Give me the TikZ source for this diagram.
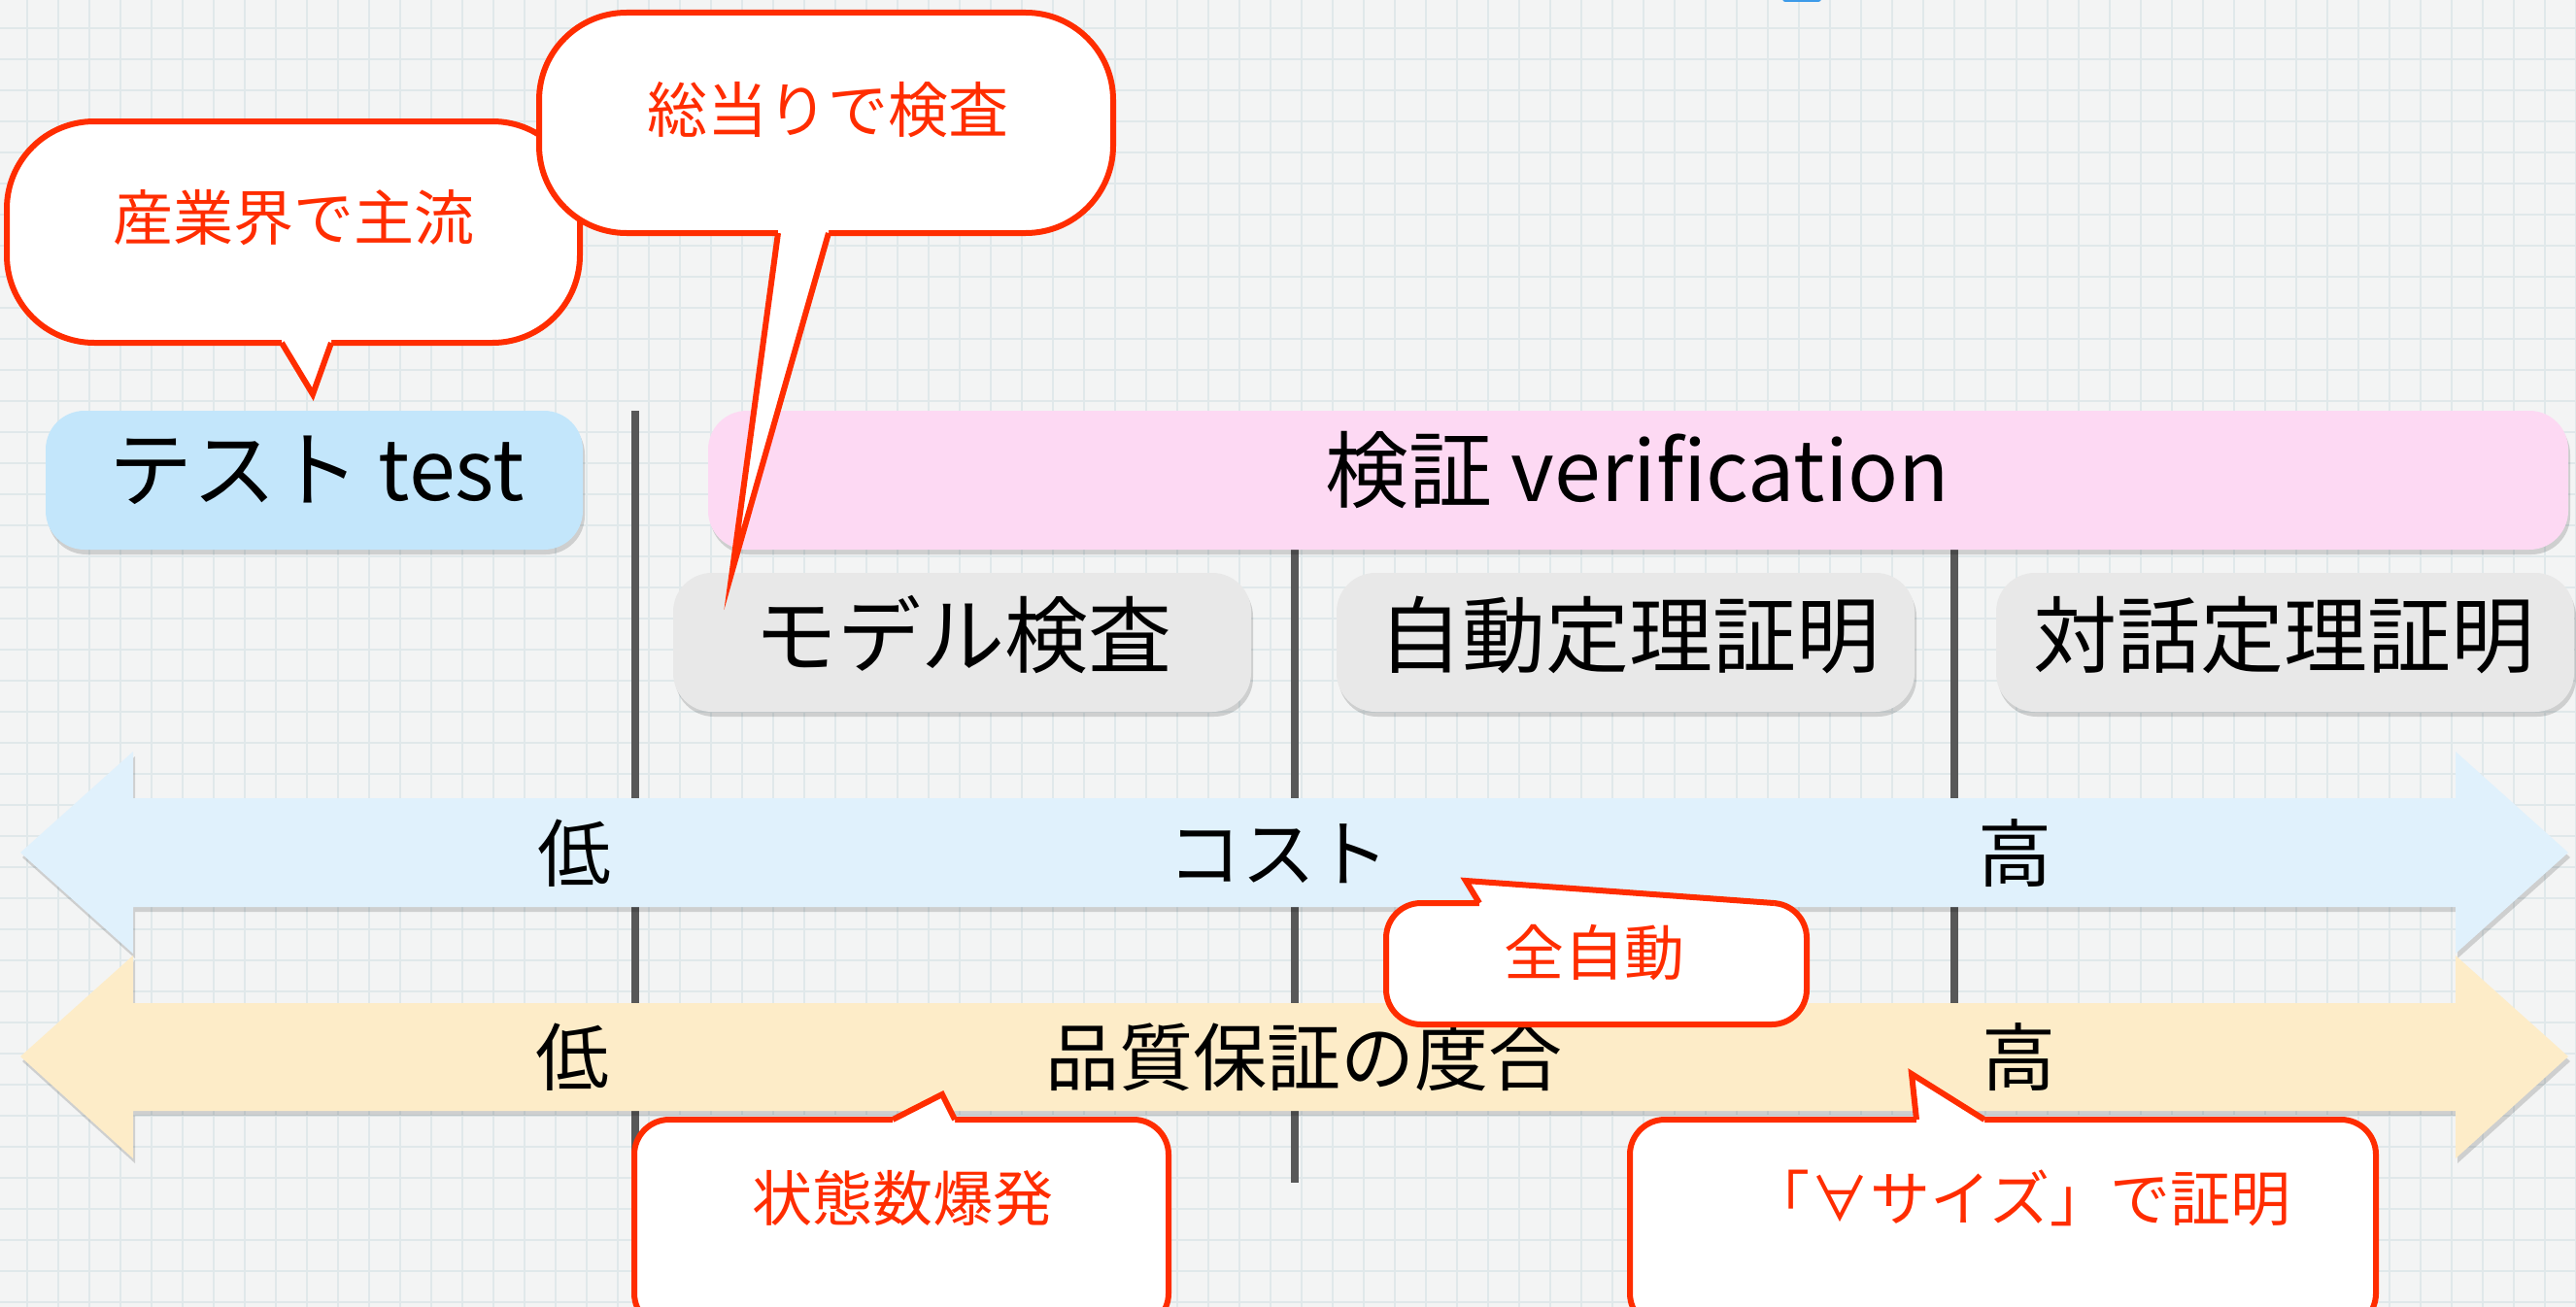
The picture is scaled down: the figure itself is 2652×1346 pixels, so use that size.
\documentclass[tikz,border=0pt]{standalone}
\usepackage{fontspec}
\setmainfont{Noto Sans CJK JP}
\usetikzlibrary{shadows}
\definecolor{bg}{HTML}{F3F4F4}
\definecolor{gridc}{HTML}{E0E8EA}
\definecolor{testc}{HTML}{C3E6FB}
\definecolor{verc}{HTML}{FDD9F3}
\definecolor{boxg}{HTML}{E8E8E8}
\definecolor{costc}{HTML}{E0F1FC}
\definecolor{qualc}{HTML}{FDECC8}
\definecolor{calred}{HTML}{FF2D00}
\definecolor{divc}{HTML}{585858}
\definecolor{topblue}{HTML}{3D9BE9}
\tikzset{
  softshadow/.style={drop shadow={opacity=0.15, shadow xshift=2pt, shadow yshift=-5pt, fill=black}},
  catbox/.style={rounded corners=40pt, softshadow},
  big/.style={font=\fontsize{86}{90}\selectfont, text=black, inner sep=0pt},
  mid/.style={font=\fontsize{76}{80}\selectfont, text=black, inner sep=0pt},
  ctext/.style={font=\fontsize{62}{66}\selectfont, text=calred, inner sep=0pt},
  cbox/.style={draw=calred, line width=6pt, fill=white},
  cptrfill/.style={fill=white},
  cptr/.style={draw=calred, line width=6pt, line join=miter, miter limit=20},
  divider/.style={draw=divc, line width=8pt},
  gridline/.style={draw=gridc, line width=1.5pt},
  bigarrow/.style={softshadow},
}
\begin{document}
\begin{tikzpicture}[x=1pt,y=-1pt]
\useasboundingbox (0,0) rectangle (2652,1346);
% background and grid
\fill[bg] (0,0) rectangle (2652,1346);
\foreach \gx in {28,60,...,2652} {\draw[gridline] (\gx,0) -- (\gx,1346);}
\foreach \gy in {29,61,...,1346} {\draw[gridline] (0,\gy) -- (2652,\gy);}
\fill[topblue, rounded corners=3pt] (1835,-10) rectangle (1875,2);
% dividers
\coordinate (d1t) at (654,423); \coordinate (d1b) at (654,1218);
\coordinate (d2t) at (1333,423); \coordinate (d2b) at (1333,1218);
\coordinate (d3t) at (2012,423); \coordinate (d3b) at (2012,1218);
\draw[divider] (d1t) -- (d1b);
\draw[divider] (d2t) -- (d2b);
\draw[divider] (d3t) -- (d3b);
% category boxes
\path[catbox, fill=testc] (47,423) rectangle (600,566);
\path[catbox, fill=verc] (729,423) rectangle (2644,566);
\path[catbox, fill=boxg] (693,590) rectangle (1288,733);
\path[catbox, fill=boxg] (1376,590) rectangle (1971,733);
\path[catbox, fill=boxg] (2055,590) rectangle (2650,733);
\node[big] (test) at (326,484) {テスト test};
\node[big] (verif) at (1686,484) {検証 verification};
\node[big] (mc) at (991,654) {モデル検査};
\node[big] (atp) at (1677,654) {自動定理証明};
\node[big] (itp) at (2351,654) {対話定理証明};
% cost arrow
\path[bigarrow, fill=costc] (21,878) -- (137,774) -- (137,822) -- (2528,822) -- (2528,774)
  -- (2644,878) -- (2528,982) -- (2528,934) -- (137,934) -- (137,982) -- cycle;
\node[mid] (costlo) at (591,879) {低};
\node[mid] (cost) at (1316,879) {コスト};
\node[mid] (costhi) at (2074,879) {高};
% quality arrow
\path[bigarrow, fill=qualc] (21,1088) -- (137,984) -- (137,1033) -- (2528,1033) -- (2528,984)
  -- (2644,1088) -- (2528,1193) -- (2528,1144) -- (137,1144) -- (137,1193) -- cycle;
\node[mid] (quallo) at (589,1089) {低};
\node[mid] (qual) at (1342,1089) {品質保証の度合};
\node[mid] (qualhi) at (2078,1089) {高};
% callout 1
\path[cbox, rounded corners=90pt] (7,125) rectangle (597,353);
\fill[cptrfill] (290,343) -- (290,353) -- (322,406) -- (341,353) -- (341,343) -- cycle;
\draw[cptr] (290,353) -- (322,406) -- (341,353);
\node[ctext] (c1) at (302,224) {産業界で主流};
% callout 2
\path[cbox, rounded corners=90pt] (555,13) rectangle (1146,240);
\fill[cptrfill] (801,230) -- (801,240) -- (754,587) -- (853,240) -- (853,230) -- cycle;
\draw[cptr] (801,240) -- (754,587) -- (853,240);
\node[ctext] (c2) at (852,113) {総当りで検査};
% callout 3
\path[cbox, rounded corners=36pt] (1427,930) rectangle (1860,1055);
\fill[cptrfill] (1523,940) -- (1523,930) -- (1509,907) -- (1826,930) -- (1826,940) -- cycle;
\draw[cptr] (1523,930) -- (1509,907) -- (1826,930);
\node[ctext] (c3) at (1641,981) {全自動};
% callout 4
\path[cbox, rounded corners=36pt] (653,1153) rectangle (1203,1368);
\fill[cptrfill] (919,1163) -- (919,1153) -- (970,1127) -- (983,1153) -- (983,1163) -- cycle;
\draw[cptr] (919,1153) -- (970,1127) -- (983,1153);
\node[ctext] (c4) at (929,1234) {状態数爆発};
% callout 5
\path[cbox, rounded corners=36pt] (1678,1153) rectangle (2446,1368);
\fill[cptrfill] (1973,1163) -- (1973,1153) -- (1968,1106) -- (2043,1153) -- (2043,1163) -- cycle;
\draw[cptr] (1973,1153) -- (1968,1106) -- (2043,1153);
\node[ctext] (c5) at (2080,1234) {「∀サイズ」で証明};
\end{tikzpicture}
\end{document}
